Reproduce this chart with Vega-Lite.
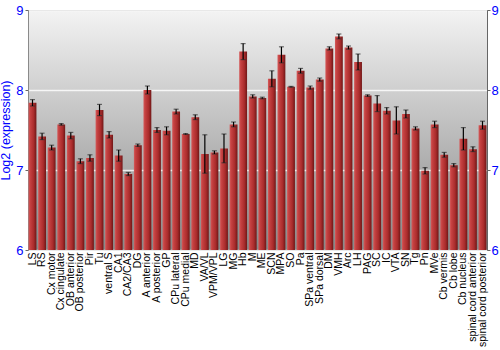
{
  "$schema": "https://vega.github.io/schema/vega-lite/v6.json",
  "width": 459,
  "height": 240,
  "autosize": {"type": "none"},
  "padding": {"left": 28, "top": 10, "right": 13, "bottom": 100},
  "background": "white",
  "config": {
    "font": "Liberation Sans",
    "view": {
      "stroke": "#8a8a8a",
      "strokeWidth": 1,
      "fill": {"gradient": "linear", "x1": 0, "y1": 0, "x2": 0, "y2": 1,
        "stops": [{"offset": 0, "color": "#f3f3f3"}, {"offset": 1, "color": "#878787"}]}
    }
  },
  "data": {"values": [
    {"region": "LS", "value": 7.84, "err": 0.04},
    {"region": "RS", "value": 7.42, "err": 0.04},
    {"region": "Cx motor", "value": 7.28, "err": 0.03},
    {"region": "Cx cingulate", "value": 7.57, "err": 0.01},
    {"region": "OB anterior", "value": 7.43, "err": 0.04},
    {"region": "OB posterior", "value": 7.11, "err": 0.03},
    {"region": "Pir", "value": 7.15, "err": 0.04},
    {"region": "Tu", "value": 7.75, "err": 0.07},
    {"region": "ventral S", "value": 7.44, "err": 0.04},
    {"region": "CA1", "value": 7.18, "err": 0.07},
    {"region": "CA2/CA3", "value": 6.95, "err": 0.02},
    {"region": "DG", "value": 7.31, "err": 0.015},
    {"region": "A anterior", "value": 8.0, "err": 0.05},
    {"region": "A posterior", "value": 7.5, "err": 0.03},
    {"region": "GP", "value": 7.49, "err": 0.05},
    {"region": "CPu lateral", "value": 7.73, "err": 0.03},
    {"region": "CPu medial", "value": 7.45, "err": 0.005},
    {"region": "MD", "value": 7.66, "err": 0.03},
    {"region": "VA/VL", "value": 7.2, "err": 0.24},
    {"region": "VPM/VPL", "value": 7.22, "err": 0.02},
    {"region": "LG", "value": 7.27, "err": 0.18},
    {"region": "MG", "value": 7.57, "err": 0.03},
    {"region": "Hb", "value": 8.48, "err": 0.1},
    {"region": "M", "value": 7.92, "err": 0.02},
    {"region": "ME", "value": 7.9, "err": 0.01},
    {"region": "SCN", "value": 8.14, "err": 0.1},
    {"region": "MPA", "value": 8.44, "err": 0.1},
    {"region": "SO", "value": 8.04, "err": 0.005},
    {"region": "Pa", "value": 8.24, "err": 0.03},
    {"region": "SPa ventral", "value": 8.03, "err": 0.02},
    {"region": "SPa dorsal", "value": 8.13, "err": 0.02},
    {"region": "DM", "value": 8.52, "err": 0.02},
    {"region": "VMH", "value": 8.67, "err": 0.03},
    {"region": "Arc", "value": 8.53, "err": 0.02},
    {"region": "LH", "value": 8.35, "err": 0.1},
    {"region": "PAG", "value": 7.93, "err": 0.01},
    {"region": "SC", "value": 7.83, "err": 0.1},
    {"region": "IC", "value": 7.74, "err": 0.04},
    {"region": "VTA", "value": 7.62, "err": 0.17},
    {"region": "SN", "value": 7.7, "err": 0.05},
    {"region": "Tg", "value": 7.52, "err": 0.02},
    {"region": "Pn", "value": 6.99, "err": 0.04},
    {"region": "MVe", "value": 7.57, "err": 0.04},
    {"region": "Cb vermis", "value": 7.19, "err": 0.03},
    {"region": "Cb lobe", "value": 7.06, "err": 0.02},
    {"region": "Cb nucleus", "value": 7.39, "err": 0.14},
    {"region": "spinal cord anterior", "value": 7.26, "err": 0.03},
    {"region": "spinal cord posterior", "value": 7.56, "err": 0.05}
  ]},
  "encoding": {
    "x": {
      "field": "region", "type": "nominal", "sort": null,
      "scale": {"paddingInner": 0.18, "paddingOuter": 0.06},
      "axis": {"title": null, "labelAngle": -90, "labelAlign": "right", "labelBaseline": "middle",
        "labelFontSize": 10.5, "labelColor": "black", "labelFont": "Liberation Sans",
        "ticks": false, "domain": false, "labelPadding": 2}
    }
  },
  "layer": [
    {
      "mark": {"type": "bar", "clip": true,
        "color": {"gradient": "linear", "x1": 0, "y1": 0, "x2": 1, "y2": 0,
          "stops": [{"offset": 0, "color": "#d45c5c"}, {"offset": 0.2, "color": "#c64242"},
                    {"offset": 0.65, "color": "#aa2c2c"}, {"offset": 1, "color": "#701717"}]}},
      "encoding": {
        "y": {"field": "value", "type": "quantitative",
          "scale": {"domain": [6, 9], "nice": false, "zero": false},
          "axis": {"title": "Log2 (expression)", "titleColor": "#0000ff", "titleFontSize": 12.5,
            "titleFontWeight": "normal", "titleFont": "Liberation Sans", "titlePadding": 3,
            "values": [6, 7, 8, 9], "labelColor": "#0000ff", "labelFontSize": 13,
            "labelFont": "Liberation Sans", "domainColor": "#8a8a8a", "tickColor": "#666",
            "tickSize": 3, "labelPadding": 2,
            "grid": true, "gridColor": "white", "gridOpacity": 0.8, "gridWidth": 1.5}}
      }
    },
    {
      "mark": {"type": "errorbar", "ticks": {"size": 5, "color": "#333"}, "color": "black", "thickness": 1.2},
      "encoding": {
        "y": {"field": "value", "type": "quantitative",
          "scale": {"domain": [6, 9], "nice": false, "zero": false},
          "axis": {"orient": "right", "title": null, "values": [6, 7, 8, 9], "labelColor": "#0000ff",
            "labelFontSize": 13, "labelFont": "Liberation Sans", "domainColor": "#666", "tickColor": "#666",
            "tickSize": 3, "labelPadding": 1, "grid": false}},
        "yError": {"field": "err"}
      }
    }
  ],
  "resolve": {"axis": {"y": "independent"}}
}
